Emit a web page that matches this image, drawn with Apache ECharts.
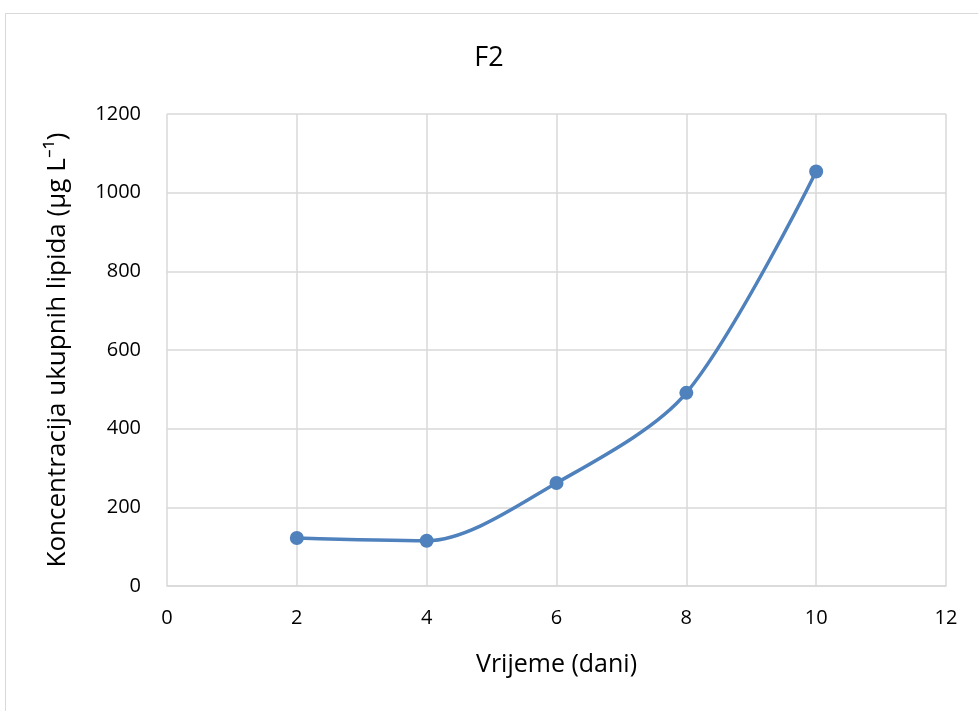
<!DOCTYPE html>
<html><head><meta charset="utf-8">
<script src="https://cdn.jsdelivr.net/npm/echarts@6/dist/echarts.min.js"></script>
<style>html,body{margin:0;padding:0;background:#fff}#c{width:978px;height:711px;position:relative}
#frame{position:absolute;left:5px;top:13px;width:990px;height:720px;border:1px solid #d9d9d9;box-sizing:border-box;pointer-events:none}</style>
</head><body><div id="c"></div><div id="frame"></div>
<script>
const days = [2, 4, 6, 8, 10];
const lipids = [122, 115, 262, 491, 1054];
const xTicks = [0, 2, 4, 6, 8, 10, 12];
const yTicks = [0, 200, 400, 600, 800, 1000, 1200];
const chart = echarts.init(document.getElementById('c'));
const font = '"Open Sans", "Liberation Sans", sans-serif';
chart.setOption({
  animation: false,
  title: {text: 'F2', left: 'center', top: 40, textStyle: {fontFamily: font, fontSize: 27, fontWeight: 'normal', color: '#000'}},
  grid: {left: 167, right: 32, top: 114, bottom: 125},
  xAxis: {type: 'value', min: xTicks[0], max: xTicks[xTicks.length-1], interval: 2,
    name: 'Vrijeme (dani)', nameLocation: 'middle', nameGap: 66,
    nameTextStyle: {fontFamily: font, fontSize: 25, color: '#000'},
    axisLine: {show: true, lineStyle: {color: '#d9d9d9', width: 1.5}}, axisTick: {show: false},
    axisLabel: {fontFamily: font, fontSize: 20, color: '#000', margin: 22, formatter: v => String(v)},
    splitLine: {show: true, lineStyle: {color: '#d9d9d9', width: 1.5}}},
  yAxis: {type: 'value', min: yTicks[0], max: yTicks[yTicks.length-1], interval: 200,
    name: 'Koncentracija ukupnih lipida (µg L⁻¹)', nameLocation: 'middle', nameGap: 96,
    nameTextStyle: {fontFamily: font, fontSize: 26, color: '#000'},
    axisLine: {show: false}, axisTick: {show: false},
    axisLabel: {fontFamily: font, fontSize: 20, color: '#000', margin: 26, formatter: v => String(v)},
    splitLine: {show: true, lineStyle: {color: '#d9d9d9', width: 1.5}}},
  series: [{type: 'line', data: days.map((d,i)=>[d, lipids[i]]), smooth: 0.3,
    symbol: 'circle', symbolSize: 14,
    lineStyle: {color: '#4f81bd', width: 3.5}, itemStyle: {color: '#4f81bd'}}]
});
</script></body></html>
